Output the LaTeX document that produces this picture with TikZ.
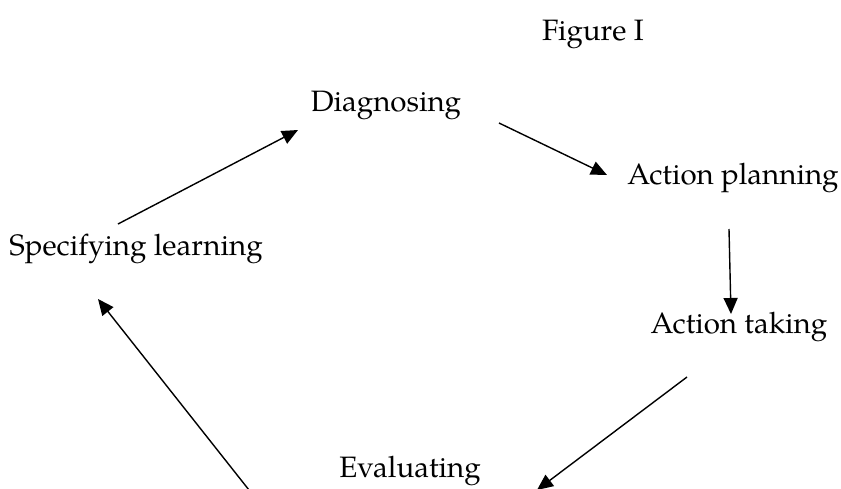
\documentclass[tikz,border=0pt]{standalone}
\usepackage{fontspec}
\setmainfont{TeX Gyre Pagella}
\usetikzlibrary{arrows.meta}
\begin{document}
\begin{tikzpicture}[x=1pt,y=-1pt,
  lbl/.style={anchor=base,inner sep=0pt,font=\fontsize{29.5}{34}\selectfont},
  conn/.style={line width=1.4pt,-{Triangle[length=16pt,width=14pt]}}]
\useasboundingbox (0,0) rectangle (841,488);
\node[lbl] (fig) at (593,40) {Figure I};
\node[lbl] (diag) at (386,111) {Diagnosing};
\node[lbl] (plan) at (733,184) {Action planning};
\node[lbl] (spec) at (136,255) {Specifying learning};
\node[lbl] (take) at (739,333) {Action taking};
\node[lbl] (eval) at (410,477) {Evaluating};
\coordinate (a1s) at (118,224);
\coordinate (a1e) at (298,130);
\coordinate (a2s) at (499,123);
\coordinate (a2e) at (607,175);
\coordinate (a3s) at (729,229);
\coordinate (a3e) at (731,314);
\coordinate (a4s) at (687,377);
\coordinate (a4e) at (537,490);
\coordinate (a5s) at (249,490);
\coordinate (a5e) at (98,299);
\draw[conn] (a1s) -- (a1e);
\draw[conn] (a2s) -- (a2e);
\draw[conn] (a3s) -- (a3e);
\draw[conn] (a4s) -- (a4e);
\draw[conn] (a5s) -- (a5e);
\end{tikzpicture}
\end{document}
